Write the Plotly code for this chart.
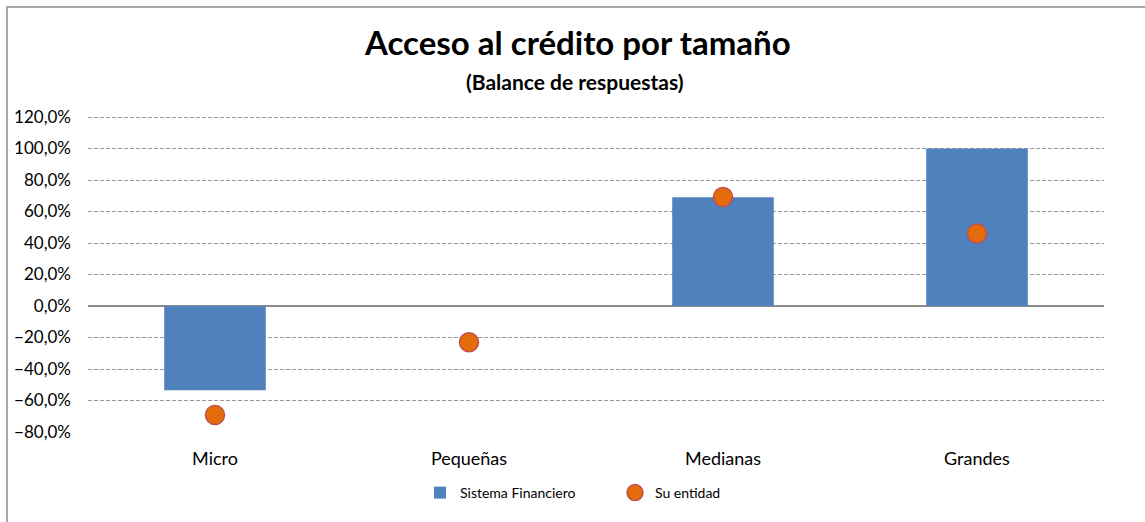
import plotly.graph_objects as go

categories = ["Micro", "Pequeñas", "Medianas", "Grandes"]
sistema_financiero = [-0.535, 0.0, 0.69, 1.0]
su_entidad = [-0.692, -0.23, 0.692, 0.46]
tick_values = [-0.8, -0.6, -0.4, -0.2, 0.0, 0.2, 0.4, 0.6, 0.8, 1.0, 1.2]

W, H = 1145, 522
L, R, T, B = 88, 41, 115, 90
pw, ph = W - L - R, H - T - B
Y_MIN, Y_MAX = -0.8, 1.2127

font_family = "Lato, 'Open Sans', sans-serif"


def py(pix):
    return (H - B - pix) / ph


def px(pix):
    return (pix - L) / pw


fig = go.Figure()
fig.add_trace(go.Bar(
    x=categories, y=sistema_financiero, name="Sistema Financiero",
    marker=dict(color="#4F81BD", line=dict(width=0)), width=0.4,
))
fig.add_trace(go.Scatter(
    x=categories, y=su_entidad, name="Su entidad", mode="markers",
    marker=dict(color="#E46C0A", size=19, line=dict(color="#C0504D", width=1.5)),
))

fig.update_layout(
    width=W, height=H,
    margin=dict(l=L, r=R, t=T, b=B),
    paper_bgcolor="white", plot_bgcolor="white",
    separators=",.",
    font=dict(family=font_family, color="#000000"),
    showlegend=True,
    legend=dict(orientation="h", x=px(420), xanchor="left", y=py(493), yanchor="middle",
                font=dict(size=14), entrywidth=150, entrywidthmode="pixels",
                itemwidth=30, traceorder="normal"),
    xaxis=dict(showgrid=False, showline=False, ticks="", tickfont=dict(size=18),
               ticklabelstandoff=14),
    yaxis=dict(range=[Y_MIN, Y_MAX], tickvals=tick_values, tickformat=".1%",
               showgrid=True, gridcolor="#9a9a9a", griddash="4px,2px", gridwidth=1,
               zeroline=True, zerolinecolor="#8c8c8c", zerolinewidth=1.5,
               showline=False, ticks="", tickfont=dict(size=17), ticklen=0,
               ticklabelstandoff=16),
    bargap=0.6,
)

# Title and subtitle
fig.add_annotation(text="<b>Acceso al crédito por tamaño</b>", xref="paper", yref="paper",
                   x=px(577), y=py(42), showarrow=False,
                   font=dict(size=33, family=font_family), xanchor="center", yanchor="middle")
fig.add_annotation(text="<b>(Balance de respuestas)</b>", xref="paper", yref="paper",
                   x=px(574), y=py(81), showarrow=False,
                   font=dict(size=21, family=font_family), xanchor="center", yanchor="middle")

# Outer border of chart area
fig.add_shape(type="rect", xref="paper", yref="paper",
              x0=px(7), x1=px(W + 20), y0=py(H + 20), y1=py(7),
              line=dict(color="#8c8c8c", width=1.5), fillcolor="rgba(0,0,0,0)", layer="below")

fig.write_html("out.html", config={"displayModeBar": False},
               post_script="document.body.style.margin='0';document.body.style.padding='0';")
